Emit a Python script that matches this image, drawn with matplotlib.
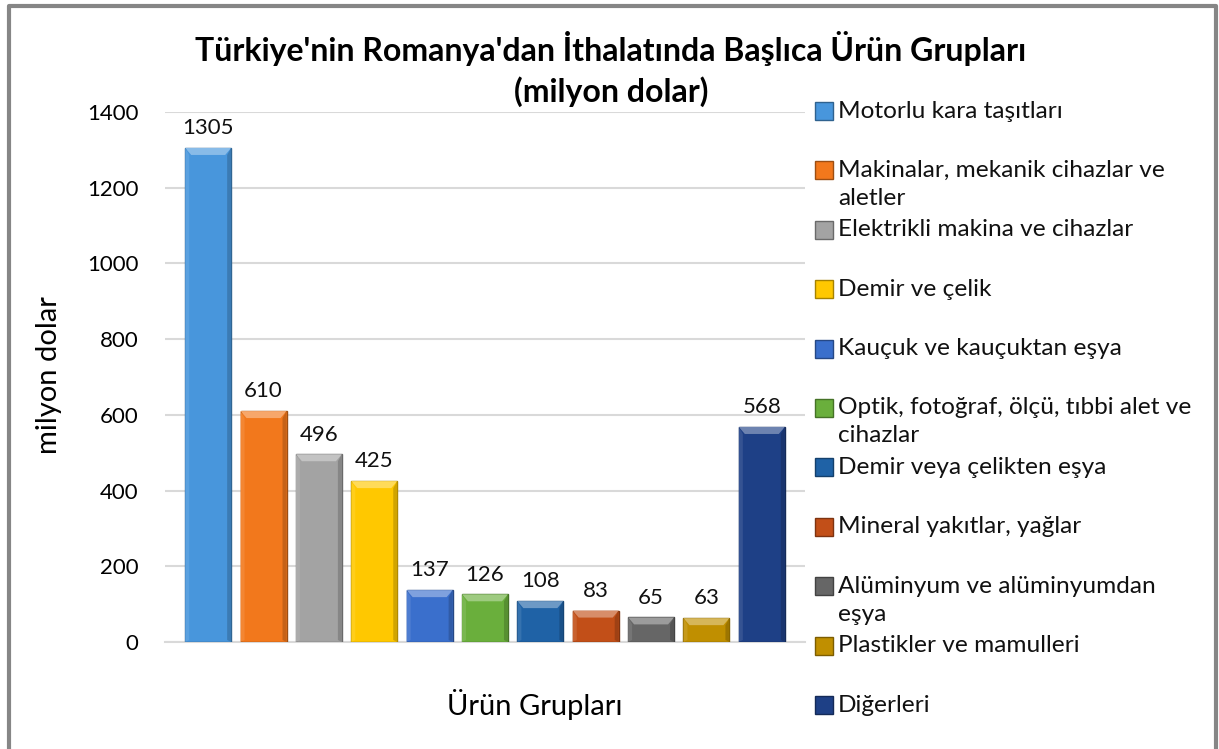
import matplotlib
matplotlib.use("Agg")
import matplotlib.pyplot as plt
from matplotlib.patches import Rectangle, Polygon
from matplotlib.lines import Line2D
import matplotlib.colors as mcolors
import numpy as np

plt.rcParams['font.family'] = ['Lato', 'DejaVu Sans']

categories = ["Motorlu kara taşıtları",
              "Makinalar, mekanik cihazlar ve\naletler",
              "Elektrikli makina ve cihazlar",
              "Demir ve çelik",
              "Kauçuk ve kauçuktan eşya",
              "Optik, fotoğraf, ölçü, tıbbi alet ve\ncihazlar",
              "Demir veya çelikten eşya",
              "Mineral yakıtlar, yağlar",
              "Alüminyum ve alüminyumdan\neşya",
              "Plastikler ve mamulleri",
              "Diğerleri"]
values = [1305, 610, 496, 425, 137, 126, 108, 83, 65, 63, 568]
colors = ["#4896dc", "#f2781c", "#a3a3a3", "#ffc800", "#3a6fcc", "#6aaf3c",
          "#1f62a6", "#c24f18", "#666666", "#c08f00", "#1e4086"]
yticks = [0, 200, 400, 600, 800, 1000, 1200, 1400]


def shade(c, f):
    r = np.array(mcolors.to_rgb(c))
    if f >= 0:
        r = r + (1 - r) * f
    else:
        r = r * (1 + f)
    return tuple(np.clip(r, 0, 1))


W, H = 1219, 749
fig = plt.figure(figsize=(W / 100, H / 100), dpi=100)
ax = fig.add_axes([165 / W, 1 - 642 / H, 640 / W, 530 / H])

x = list(range(len(values)))
bars = ax.bar(x, values, width=0.83, color=colors, edgecolor=[shade(c, -0.35) for c in colors],
              linewidth=1.0, zorder=3)

ax.set_xlim(-0.78, len(values) - 0.22)
ax.set_ylim(0, 1400)

# bevel effect derived from each bar's geometry
px_x = (ax.get_xlim()[1] - ax.get_xlim()[0]) / 640.0
px_y = (ax.get_ylim()[1] - ax.get_ylim()[0]) / 530.0
for b, c in zip(bars, colors):
    x0, w, h = b.get_x(), b.get_width(), b.get_height()
    dx, dy = 6 * px_x, 7 * px_y
    dxs = 4 * px_x
    top = Polygon([(x0, h), (x0 + w, h), (x0 + w - dx, h - dy), (x0 + dx, h - dy)],
                  closed=True, facecolor=shade(c, 0.35), edgecolor='none', zorder=4)
    left = Polygon([(x0, h), (x0 + dxs, h - dy), (x0 + dxs, 2 * px_y), (x0, 0)],
                   closed=True, facecolor=shade(c, 0.10), edgecolor='none', zorder=4)
    right = Polygon([(x0 + w, h), (x0 + w - dxs, h - dy), (x0 + w - dxs, 2 * px_y), (x0 + w, 0)],
                    closed=True, facecolor=shade(c, -0.18), edgecolor='none', zorder=4)
    for p in (top, left, right):
        ax.add_patch(p)

for xi, v in zip(x, values):
    ax.annotate(str(v), (xi, v), xytext=(0, 7), textcoords='offset points',
                ha='center', va='bottom', fontsize=16, color='#111111')

ax.set_yticks(yticks)
ax.set_yticklabels([str(t) for t in yticks], fontsize=16)
ax.tick_params(axis='y', length=0, pad=19)
ax.set_xticks([])
ax.grid(axis='y', color='#d9d9d9', linewidth=1.5, zorder=0)
for s in ['top', 'right', 'left']:
    ax.spines[s].set_visible(False)
ax.spines['bottom'].set_color('#d9d9d9')
ax.spines['bottom'].set_linewidth(1.5)

fig.text(49 / W, 1 - 375 / H, 'milyon dolar', fontsize=21, rotation=90, ha='center', va='center')
fig.text(535 / W, 1 - 705 / H, 'Ürün Grupları', fontsize=21, ha='center', va='center')

fig.text(611 / W, 1 - 48 / H, "Türkiye'nin Romanya'dan İthalatında Başlıca Ürün Grupları",
         fontsize=23, fontweight='bold', ha='center', va='center')
fig.text(611 / W, 1 - 92 / H, "(milyon dolar)",
         fontsize=23, fontweight='bold', ha='center', va='center')

# legend
for i, (lab, c) in enumerate(zip(categories, colors)):
    yc = 111 + i * 59.4
    fig.patches.append(Rectangle((815 / W, 1 - (yc + 9) / H), 18 / W, 18 / H,
                                 transform=fig.transFigure, facecolor=c,
                                 edgecolor=shade(c, -0.35), linewidth=1))
    for k, line in enumerate(lab.split('\n')):
        fig.text(838 / W, 1 - (yc + k * 28) / H, line, fontsize=17.6, ha='left', va='center',
                 color='#111111')

# outer frame (left, top, right)
fig.add_artist(Line2D([9 / W, 9 / W, 1215.5 / W, 1215.5 / W], [0, 1 - 5.5 / H, 1 - 5.5 / H, 0],
                      transform=fig.transFigure, color='#868686', linewidth=3))

fig.savefig('out.png', dpi=100)
